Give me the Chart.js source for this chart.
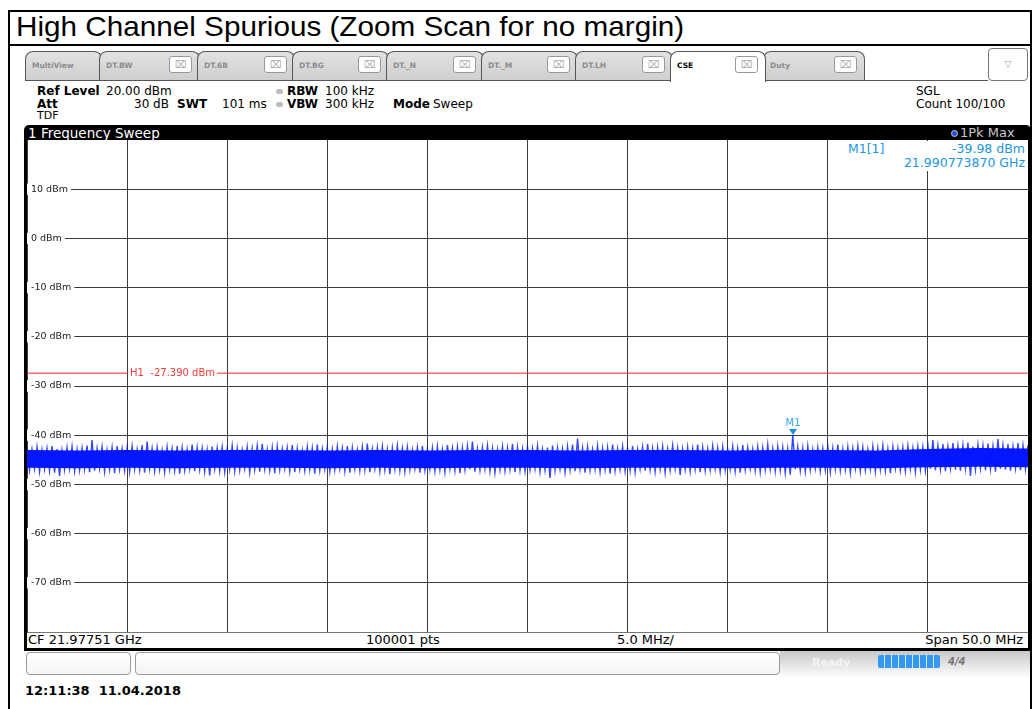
<!DOCTYPE html>
<html>
<head>
<meta charset="utf-8">
<script src="https://cdn.jsdelivr.net/npm/chart.js@4/dist/chart.umd.min.js"></script>
<style>
body { margin: 0; width: 1033px; height: 709px; background: #fff; position: relative; overflow: hidden; font-family: "DejaVu Sans", Verdana, sans-serif; }
.a { position: absolute; white-space: nowrap; line-height: 12px; }
.b { font-weight: bold; }
#frame { position: absolute; left: 8px; top: 10px; width: 1020px; height: 720px; border: 2px solid #000; border-bottom: none; }
#titleLine { position: absolute; left: 8px; top: 44px; width: 1024px; height: 2px; background: #000; }
#title { position: absolute; left: 16px; top: 11px; font: 28px "Liberation Sans", Arial, sans-serif; line-height: 32px; color: #000; transform: scaleX(1.06); transform-origin: left top; }
.tab { position: absolute; top: 51px; height: 28px; border: 1px solid #555; border-bottom: none; border-radius: 8px 8px 0 0; background: linear-gradient(#e2e2e2, #cfcfcf); }
.tab.on { background: #fff; height: 30px; z-index: 2; }
.tab span { position: absolute; left: 6px; top: 9px; font: bold 7.5px "DejaVu Sans", sans-serif; color: #8c8c8c; }
.tab.on span { color: #000; }
.xbox { position: absolute; top: 4px; width: 21px; height: 15px; border: 1px solid #999; border-radius: 3px; background: #fff; font: 10px "DejaVu Sans", sans-serif; color: #aaa; text-align: center; line-height: 15px; }
#tabLine { position: absolute; left: 25px; top: 80px; width: 963px; height: 1px; background: #555; }
#drop { position: absolute; left: 988px; top: 48px; width: 38px; height: 31px; border: 1px solid #777; border-radius: 4px; font: 9px "DejaVu Sans", sans-serif; color: #999; text-align: center; line-height: 31px; }
.dot { position: absolute; width: 7px; height: 5px; border-radius: 3px; background: #bbb; }
#bar { position: absolute; left: 24px; top: 125px; width: 1007px; height: 15px; background: #000; border-radius: 5px 5px 0 0; }
#chartBox { position: absolute; left: 27px; top: 140px; width: 1001px; height: 492px; }
.blk { position: absolute; background: #000; }
#infoRow { position: absolute; left: 27px; top: 632px; width: 1001px; height: 16px; border-top: 1px solid #777; background: #fff; }
#mbox { position: absolute; left: 845px; top: 141px; width: 182px; height: 30px; background: #fff; }
.mk { color: #2196dc; font-size: 12.5px; }
.sbox { position: absolute; top: 652px; height: 21px; border: 1px solid #9a9a9a; border-radius: 4px; background: linear-gradient(#fff, #f4f4f4); }
#grad { position: absolute; left: 780px; top: 651px; width: 250px; height: 26px; background: linear-gradient(#c8c8c8, #fdfdfd); }
#prog { position: absolute; left: 878px; top: 655px; width: 62px; height: 13px; border-radius: 2px;
  background: repeating-linear-gradient(90deg, #3398ee 0 6px, #d6ebff 6px 7px); }
</style>
</head>
<body>
<div id="frame"></div>
<div id="titleLine"></div>
<div id="title">High Channel Spurious (Zoom Scan for no margin)</div>

<div id="tabs"></div>
<div id="tabLine"></div>
<div id="drop">&#9661;</div>

<div class="a b" style="left:37px;top:85px;font-size:12px">Ref Level</div>
<div class="a" style="left:106px;top:85px;font-size:12px">20.00 dBm</div>
<div class="a b" style="left:37px;top:98px;font-size:12px">Att</div>
<div class="a" style="left:134px;top:98px;font-size:12px">30 dB</div>
<div class="a b" style="left:177px;top:98px;font-size:12px">SWT</div>
<div class="a" style="left:222px;top:98px;font-size:12px">101 ms</div>
<div class="dot" style="left:276px;top:89px"></div>
<div class="dot" style="left:276px;top:102px"></div>
<div class="a b" style="left:287px;top:85px;font-size:12px">RBW</div>
<div class="a" style="left:325px;top:85px;font-size:12px">100 kHz</div>
<div class="a b" style="left:287px;top:98px;font-size:12px">VBW</div>
<div class="a" style="left:325px;top:98px;font-size:12px">300 kHz</div>
<div class="a b" style="left:393px;top:98px;font-size:12px">Mode</div>
<div class="a" style="left:433px;top:98px;font-size:12px">Sweep</div>
<div class="a" style="left:37px;top:110px;font-size:11px">TDF</div>
<div class="a" style="left:916px;top:85px;font-size:12px">SGL</div>
<div class="a" style="left:916px;top:98px;font-size:12px">Count 100/100</div>

<div id="bar"></div>
<div class="a" style="left:28px;top:126px;font-size:13.5px;color:#fff;line-height:14px">1 Frequency Sweep</div>
<div style="position:absolute;left:951px;top:130px;width:7px;height:7px;border-radius:4px;background:#1f4fff;border:1px solid #ccc;box-sizing:border-box"></div>
<div class="a" style="left:960px;top:126px;font-size:13px;color:#c8c8c8;line-height:14px">1Pk Max</div>

<div id="chartBox"><canvas id="chart" width="1001" height="492"></canvas></div>

<div id="mbox"></div>
<div class="a mk" style="left:848px;top:143px">M1[1]</div>
<div class="a mk" style="right:8px;top:143px">-39.98 dBm</div>
<div class="a mk" style="right:8px;top:157px">21.990773870 GHz</div>

<div class="blk" style="left:24px;top:140px;width:3px;height:511px"></div>
<div class="blk" style="left:1028px;top:140px;width:3px;height:511px"></div>
<div id="infoRow"></div>
<div class="blk" style="left:24px;top:648px;width:1007px;height:3px"></div>
<div class="a" style="left:28px;top:634px;font-size:13px">CF 21.97751 GHz</div>
<div class="a" style="left:366px;top:634px;font-size:13px">100001 pts</div>
<div class="a" style="left:617px;top:634px;font-size:13px">5.0 MHz/</div>
<div class="a" style="right:10px;top:634px;font-size:13px">Span 50.0 MHz</div>

<div class="sbox" style="left:26px;width:103px"></div>
<div class="sbox" style="left:135px;width:643px"></div>
<div id="grad"></div>
<div class="a b" style="left:812px;top:657px;font-size:11px;color:#f4f4f4">Ready</div>
<div id="prog"></div>
<div class="a b" style="left:948px;top:656px;font-size:10px;color:#777;font-style:italic">4/4</div>

<div class="a b" style="left:25px;top:685px;font-size:13px">12:11:38&nbsp; 11.04.2018</div>

<script>
// sweep settings (frequency axis is MHz above the start frequency 21.95251 GHz)
const spanMHz = 50;
const divMHz = 5;
const refLevel = 20;
const bottomLevel = -80;
const divDb = 10;
const h1Level = -27.39;
const m1FreqMHz = 38.26387;
const m1Level = -39.98;

// trace: per 0.25 MHz column, highest and lowest excursion (dBm)
const traceStepMHz = 0.25;
const traceTop = [
  -42.6,-42.9,-42.4,-43.0,-42.7,-42.2,-42.8,-43.1,-42.5,-42.3,-42.9,-42.6,-42.1,-41.0,-42.7,-42.4,-43.0,-42.5,-42.2,-42.8,
  -42.6,-42.3,-42.9,-42.0,-41.3,-42.7,-42.5,-43.1,-42.4,-42.8,-42.2,-42.6,-42.9,-41.9,-42.5,-42.7,-43.0,-42.3,-42.6,-42.4,
  -42.8,-42.1,-42.6,-43.0,-42.4,-42.7,-42.2,-41.8,-42.9,-42.5,-42.3,-42.8,-42.6,-42.0,-42.7,-43.1,-42.4,-42.6,-41.9,-42.8,
  -42.5,-42.9,-42.3,-42.7,-42.2,-42.6,-43.0,-42.4,-41.7,-42.8,-42.5,-42.3,-42.9,-42.6,-42.1,-42.7,-42.4,-43.0,-42.5,-42.2,
  -42.8,-42.6,-42.3,-42.9,-42.0,-42.7,-42.4,-42.6,-42.2,-41.3,-42.8,-42.5,-42.1,-42.7,-42.9,-42.3,-42.6,-41.8,-42.5,-42.8,
  -42.4,-42.7,-42.2,-42.9,-42.5,-42.1,-42.6,-42.8,-42.3,-41.9,-40.7,-42.6,-42.4,-42.9,-42.2,-42.7,-42.5,-41.9,-42.8,-42.3,
  -42.6,-42.2,-42.9,-42.4,-41.8,-42.7,-42.5,-42.3,-42.8,-42.1,-42.6,-42.9,-42.4,-42.7,-41.9,-42.5,-42.8,-42.2,-42.6,-42.4,
  -42.9,-42.3,-42.7,-42.0,-42.5,-42.8,-42.4,-42.6,-41.9,-42.7,-42.3,-42.5,-42.8,-39.98,-42.4,-42.6,-42.2,-42.9,-42.5,-42.7,
  -42.3,-42.6,-41.9,-42.8,-42.4,-42.7,-42.2,-42.5,-42.9,-42.3,-42.6,-42.1,-42.8,-42.4,-42.7,-42.5,-42.2,-42.6,-42.3,-42.4,
  -42.0,-41.0,-42.1,-41.8,-42.3,-41.6,-42.2,-42.0,-41.5,-42.3,-41.9,-42.1,-41.7,-42.2,-40.8,-42.0,-41.8,-42.3,-41.6,-42.1,
  -42.0
];
const traceBottom = [
  -47.1,-46.8,-47.4,-46.9,-47.2,-47.6,-48.3,-47.0,-46.8,-47.3,-47.1,-46.9,-47.5,-47.2,-46.8,-47.4,-47.0,-47.7,-46.9,-47.2,
  -47.4,-46.9,-47.1,-47.6,-46.8,-47.3,-47.0,-47.5,-46.9,-47.2,-47.8,-47.1,-46.8,-47.3,-47.0,-47.4,-48.2,-46.9,-47.2,-47.5,
  -46.9,-47.3,-47.1,-46.8,-47.6,-47.0,-47.4,-46.9,-47.2,-47.7,-47.0,-46.8,-47.3,-47.5,-46.9,-47.2,-47.0,-47.8,-47.1,-46.9,
  -47.4,-47.0,-46.8,-47.3,-47.6,-46.9,-47.2,-47.0,-47.5,-46.8,-47.3,-47.1,-47.9,-46.9,-47.2,-47.4,-47.0,-46.8,-47.6,-47.1,
  -46.9,-47.3,-47.0,-47.5,-46.8,-47.2,-47.7,-47.0,-46.9,-47.4,-47.1,-46.8,-47.3,-47.6,-47.0,-47.2,-46.9,-47.5,-47.1,-47.3,
  -47.0,-46.8,-47.4,-47.1,-48.7,-47.2,-46.9,-47.5,-47.0,-47.3,-46.8,-47.6,-47.1,-46.9,-47.4,-47.0,-47.8,-47.2,-46.9,-47.3,
  -47.1,-47.5,-46.8,-47.2,-47.0,-47.4,-46.9,-47.6,-47.1,-46.8,-48.1,-47.0,-47.3,-46.9,-47.5,-47.2,-47.0,-46.8,-47.4,-47.1,
  -46.9,-47.3,-47.6,-47.0,-46.8,-47.2,-47.5,-47.0,-46.9,-47.3,-47.1,-47.7,-48.0,-46.9,-47.2,-47.4,-47.0,-46.8,-47.3,-47.1,
  -47.5,-46.9,-47.2,-47.0,-47.6,-46.8,-47.3,-47.1,-46.9,-47.4,-47.0,-47.2,-47.7,-46.8,-47.1,-47.3,-46.9,-47.5,-47.0,-47.2,
  -46.8,-47.1,-46.9,-47.3,-46.7,-47.0,-47.2,-46.8,-48.3,-47.0,-46.7,-47.1,-46.9,-47.4,-46.8,-47.0,-47.2,-46.7,-47.1,-46.9,
  -47.0
];

// dense middle of the noise band, per 2.5 MHz (dBm)
const coreStepMHz = 2.5;
const coreTop = [-43.0,-43.1,-43.0,-43.1,-43.0,-43.0,-43.1,-43.0,-43.1,-43.0,-43.0,-43.1,-43.0,-43.0,-43.1,-43.0,-43.0,-43.1,-42.8,-42.6,-42.7];
const coreBottom = [-46.6,-46.7,-46.6,-46.7,-46.6,-46.6,-46.7,-46.6,-46.7,-46.6,-46.6,-46.7,-46.6,-46.6,-46.7,-46.6,-46.6,-46.7,-46.5,-46.4,-46.5];

// tab strip (screen chrome)
const tabs = [
  ['MultiView', 25, 75], ['DT.BW', 99, 99], ['DT.6B', 197, 96], ['DT.BG', 292, 95],
  ['DT._N', 386, 96], ['DT._M', 481, 95], ['DT.LH', 575, 96], ['CSE', 670, 94], ['Duty', 763, 100]
];
const tabHost = document.getElementById('tabs');
tabs.forEach(([name, left, width]) => {
  const t = document.createElement('div');
  t.className = 'tab' + (name === 'CSE' ? ' on' : '');
  t.style.left = left + 'px';
  t.style.width = width + 'px';
  t.innerHTML = '<span>' + name + '</span>' +
    (name === 'MultiView' ? '' : '<div class="xbox" style="left:' + (width - 30) + 'px">&#8999;</div>');
  tabHost.appendChild(t);
});

// zig-zag between column max and min so the band reads like the analyzer trace
const trace = [];
traceTop.forEach((v, i) => {
  trace.push({ x: i * traceStepMHz, y: v });
  if (i < traceTop.length - 1) trace.push({ x: (i + 0.5) * traceStepMHz, y: traceBottom[i] });
});
const coreTopPts = coreTop.map((v, i) => ({ x: i * coreStepMHz, y: v }));
const coreBottomPts = coreBottom.map((v, i) => ({ x: i * coreStepMHz, y: v }));

const markerPlugin = {
  id: 'markers',
  afterDatasetsDraw(chart) {
    const { ctx, scales: { x, y } } = chart;
    ctx.save();
    // H1 display line label
    const hx = x.getPixelForValue(divMHz);
    const hy = Math.round(y.getPixelForValue(h1Level)) + 0.5;
    ctx.font = '10px "DejaVu Sans"';
    const label = 'H1  ' + h1Level.toFixed(3) + ' dBm';
    const w = ctx.measureText(label).width;
    ctx.fillStyle = '#fff';
    ctx.fillRect(hx + 1, hy - 5, w + 4, 10);
    ctx.fillStyle = '#f03c3c';
    ctx.textBaseline = 'middle';
    ctx.fillText(label, hx + 3, hy);
    // M1 marker
    const mx = x.getPixelForValue(m1FreqMHz);
    const my = y.getPixelForValue(m1Level);
    ctx.fillStyle = '#1b8fe0';
    ctx.beginPath();
    ctx.moveTo(mx, my);
    ctx.lineTo(mx - 4, my - 6);
    ctx.lineTo(mx + 4, my - 6);
    ctx.closePath();
    ctx.fill();
    ctx.fillStyle = '#3aa6e2';
    ctx.textAlign = 'center';
    ctx.textBaseline = 'alphabetic';
    ctx.fillText('M1', mx, my - 9);
    ctx.restore();
  }
};

// keep the grid filling the whole canvas (labels sit inside the plot)
const noFit = s => {
  if (s.isHorizontal()) s.height = 0; else s.width = 0;
  s.paddingTop = s.paddingBottom = s.paddingLeft = s.paddingRight = 0;
};

new Chart(document.getElementById('chart'), {
  type: 'line',
  data: {
    datasets: [
      { data: [{ x: 0, y: h1Level }, { x: spanMHz, y: h1Level }], borderColor: '#ff2a2a', borderWidth: 1, pointRadius: 0 },
      { data: trace, borderColor: 'rgba(0,22,255,0.8)', borderWidth: 1.4, pointRadius: 0, tension: 0 },
      { data: coreTopPts, borderWidth: 0, pointRadius: 0, fill: '+1', backgroundColor: '#0618ff' },
      { data: coreBottomPts, borderWidth: 0, pointRadius: 0 }
    ]
  },
  options: {
    responsive: false,
    animation: false,
    events: [],
    layout: { padding: 0, autoPadding: false },
    plugins: { legend: { display: false }, tooltip: { enabled: false } },
    scales: {
      x: {
        type: 'linear', min: 0, max: spanMHz,
        afterFit: noFit,
        ticks: { display: false, stepSize: divMHz },
        grid: { color: '#3c3c3c', drawTicks: false },
        border: { display: false }
      },
      y: {
        min: bottomLevel, max: refLevel,
        afterFit: noFit,
        afterBuildTicks: s => { s.ticks = s.ticks.filter(t => t.value > bottomLevel && t.value < refLevel); },
        ticks: {
          stepSize: divDb, mirror: true, padding: 4,
          color: '#222', font: { family: 'DejaVu Sans', size: 9.5 },
          callback: v => v + ' dBm',
          showLabelBackdrop: true, backdropColor: '#fff',
          backdropPadding: { left: 5, right: 3, top: 0, bottom: 0 }
        },
        grid: { color: '#3c3c3c', drawTicks: false },
        border: { display: false }
      }
    }
  },
  plugins: [markerPlugin]
});
</script>
</body>
</html>
